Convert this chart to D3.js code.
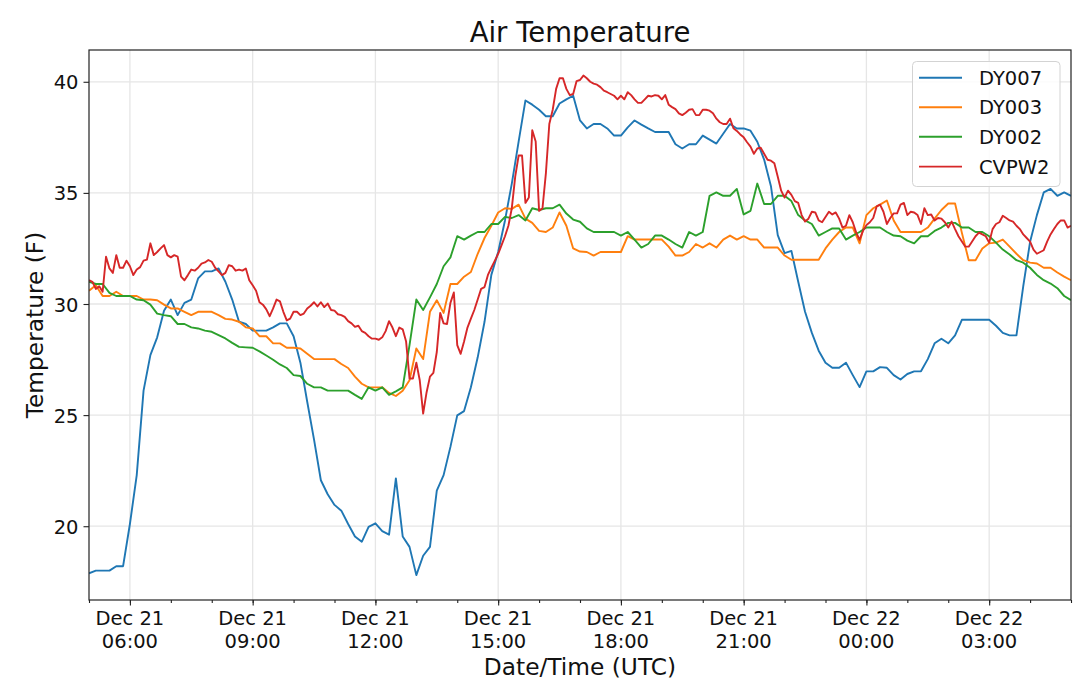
<!DOCTYPE html>
<html>
<head>
<meta charset="utf-8">
<script src="https://cdn.jsdelivr.net/npm/d3@7"></script>
<style>
  html, body { margin: 0; padding: 0; background: #ffffff; }
  svg { display: block; font-family: "DejaVu Sans", sans-serif; }
</style>
</head>
<body>
<svg id="chart" width="1080" height="699"></svg>
<script>
// ---------------- data ----------------
const seriesNames = ["DY007", "DY003", "DY002", "CVPW2"];
const seriesColors = ["#1f77b4", "#ff7f0e", "#2ca02c", "#d62728"];

const startTime = "2018-12-21T05:00:00Z";
const endTime = "2018-12-22T05:00:00Z";
const dyStepMinutes = 10;   // DY stations report every 10 minutes
const cvStepMinutes = 5;    // CVPW2 reports every 5 minutes

const dy007 = [
  17.88, 18.0, 18.0, 18.0, 18.2, 18.2, 20.1, 22.3, 26.1, 27.7,
  28.5, 29.7, 30.2, 29.5, 30.05, 30.2, 31.15, 31.47, 31.47, 31.6,
  31.0, 30.2, 29.2, 29.1, 28.8,
  28.8, 28.8, 28.95, 29.13, 29.13, 28.55, 27.36, 25.6, 23.9, 22.07,
  21.44, 20.96, 20.7, 20.1, 19.54, 19.3, 19.97, 20.13, 19.78, 19.62,
  22.15, 19.54, 19.07, 17.8,
  18.67, 19.07, 21.6, 22.3, 23.57, 24.99, 25.18, 26.25, 27.6, 29.2,
  31.31, 32.34, 33.76, 35.42, 37.31, 39.16, 38.97, 38.74, 38.45, 38.45,
  39.02, 39.21, 39.37, 38.26,
  37.9, 38.1, 38.1, 37.9, 37.58, 37.58, 37.95, 38.26, 38.07, 37.9,
  37.74, 37.74, 37.74, 37.19, 37.0, 37.19, 37.19, 37.58, 37.4, 37.22,
  37.66, 38.1, 37.9, 37.9,
  37.8, 37.3, 36.5, 35.3, 33.1, 32.29, 32.39, 31.0, 29.65, 28.7,
  27.9, 27.36, 27.13, 27.13, 27.36, 26.8, 26.26, 26.97, 26.97, 27.16,
  27.13, 26.8, 26.6, 26.85,
  26.97, 26.97, 27.52, 28.23, 28.44, 28.23, 28.59, 29.29, 29.29, 29.29,
  29.29, 29.29, 29.02, 28.7, 28.59, 28.59, 30.8, 32.8, 34.0, 35.02,
  35.18, 34.87, 35.02, 34.87
];

const dy003 = [
  30.6, 30.84, 30.36, 30.36, 30.55, 30.36, 30.36, 30.36, 30.2, 30.2,
  30.17, 29.97, 29.8, 29.8, 29.65, 29.5, 29.65, 29.65, 29.65, 29.5,
  29.33, 29.3, 29.2, 28.95, 28.9,
  28.55, 28.55, 28.23, 28.23, 28.03, 28.03, 28.0, 27.76, 27.52, 27.52,
  27.52, 27.52, 27.3, 27.12, 26.73, 26.41, 26.25, 26.25, 26.25, 26.0,
  25.86, 26.1, 26.57, 28.0,
  27.52, 29.65, 30.17, 29.6, 30.9, 30.9, 31.23, 31.44, 32.26, 32.97,
  33.52, 34.12, 34.31, 34.28, 34.47, 33.84, 33.65, 33.29, 33.24, 33.44,
  34.12, 33.52, 32.5, 32.36,
  32.34, 32.18, 32.34, 32.34, 32.34, 32.34, 33.05, 32.9, 32.9, 32.9,
  32.9, 32.9, 32.58, 32.18, 32.18, 32.34, 32.7, 32.54, 32.73, 32.54,
  32.9, 33.08, 32.9, 33.05,
  32.9, 32.9, 32.54, 32.54, 32.54, 32.18, 31.99, 31.99, 31.99, 31.99,
  31.99, 32.5, 32.9, 33.24, 33.44, 33.44, 32.73, 34.0, 34.31, 34.47,
  34.66, 33.76, 33.24, 33.24,
  33.24, 33.24, 33.44, 33.84, 34.23, 34.52, 34.52, 33.2, 31.97, 31.97,
  32.5, 32.73, 32.76, 32.9, 32.58, 32.26, 31.97, 31.86, 31.82, 31.63,
  31.63, 31.42, 31.23, 31.07
];

const dy002 = [
  31.0, 30.9, 30.9, 30.5, 30.36, 30.36, 30.36, 30.2, 30.17, 29.97,
  29.57, 29.5, 29.45, 29.1, 29.1, 28.95, 28.9, 28.8, 28.75, 28.6,
  28.45, 28.25, 28.07, 28.05, 28.03,
  27.87, 27.68, 27.49, 27.28, 27.12, 26.8, 26.76, 26.41, 26.25, 26.25,
  26.1, 26.1, 26.1, 26.1, 25.91, 25.73, 26.25, 26.1, 26.25, 25.91,
  26.07, 26.25, 28.15, 30.2,
  29.73, 30.3, 30.9, 31.7, 32.1, 33.05, 32.9, 33.08, 33.24, 33.24,
  33.6, 33.6, 33.92, 33.87, 34.0, 33.76, 34.31, 34.23, 34.31, 34.31,
  34.47, 34.07, 33.8, 33.7,
  33.4, 33.24, 33.24, 33.24, 33.24, 33.08, 33.24, 32.9, 32.54, 32.7,
  33.08, 33.08, 32.9, 32.7, 32.54, 33.24, 33.08, 33.24, 34.87, 35.02,
  34.87, 34.87, 35.18, 34.03,
  34.19, 35.42, 34.5, 34.5, 34.87, 34.87, 34.63, 34.0, 33.76, 33.6,
  33.08, 33.24, 33.4, 33.4, 32.9, 33.08, 33.24, 33.44, 33.44, 33.44,
  33.24, 33.08, 33.05, 32.85,
  32.73, 33.05, 33.05, 33.29, 33.44, 33.65, 33.65, 33.44, 33.44, 33.24,
  33.24, 33.05, 32.76, 32.45, 32.23, 31.97, 31.86, 31.63, 31.31, 31.07,
  30.92, 30.71, 30.36, 30.17
];

const cvpw2 = [
  // 05:00 - 08:55
  31.07, 31.0, 30.68, 30.8, 30.55, 32.13, 31.6, 31.4, 32.2, 31.63, 31.63, 31.95,
  31.7, 31.3, 31.55, 31.66, 31.95, 32.0, 32.73, 32.2, 32.34, 32.5, 32.65, 32.2,
  32.1, 32.2, 32.13, 31.23, 31.07, 31.3, 31.55, 31.5, 31.63, 31.82, 31.87, 31.98,
  31.9, 31.63, 31.47, 31.3, 31.4, 31.75, 31.7, 31.5, 31.55, 31.5, 31.6, 31.07,
  // 09:00 - 12:55
  30.84, 30.6, 30.08, 29.97, 29.76, 29.45, 29.8, 30.2, 30.12, 29.65, 29.26, 29.34,
  29.65, 29.65, 29.5, 29.57, 29.8, 29.92, 30.08, 29.89, 30.08, 29.86, 30.02, 29.73,
  29.7, 29.54, 29.5, 29.42, 29.23, 29.13, 28.97, 29.02, 28.78, 28.7, 28.55, 28.44,
  28.44, 28.39, 28.5, 28.78, 29.23, 28.94, 28.55, 28.94, 28.86, 28.31, 26.65, 26.65,
  // 13:00 - 16:55
  27.36, 26.57, 25.07, 26.02, 26.73, 26.9, 27.84, 29.6, 29.13, 29.1, 30.05, 30.52,
  28.15, 27.76, 28.31, 28.94, 29.34, 29.73, 30.2, 30.68, 30.76, 31.31, 31.63, 31.94,
  32.26, 32.65, 33.05, 33.52, 34.31, 35.73, 36.68, 36.68, 34.55, 34.79, 37.82, 37.31,
  34.19, 34.31, 35.89, 38.1, 38.74, 39.68, 40.16, 40.16, 39.68, 39.4, 39.45, 40.03,
  // 17:00 - 20:55
  40.08, 40.28, 40.16, 40.0, 39.92, 39.87, 39.76, 39.6, 39.53, 39.45, 39.37, 39.21,
  39.37, 39.21, 39.53, 39.4, 39.21, 39.05, 39.05, 39.21, 39.37, 39.34, 39.4, 39.37,
  39.21, 39.4, 38.97, 38.86, 38.77, 38.58, 38.5, 38.61, 38.74, 38.77, 38.5, 38.5,
  38.74, 38.74, 38.7, 38.58, 38.34, 38.18, 38.1, 38.1, 38.34, 37.91, 37.79, 37.63,
  // 21:00 - 00:55
  37.5, 37.28, 37.08, 36.76, 37.0, 37.03, 36.76, 36.49, 36.45, 36.33, 35.73, 35.1,
  34.79, 35.1, 34.91, 34.63, 34.55, 34.0, 33.71, 33.84, 34.15, 34.12, 33.76, 33.68,
  33.92, 34.15, 34.03, 34.12, 33.84, 33.44, 33.52, 34.0, 33.68, 33.21, 32.89, 33.29,
  33.55, 33.68, 33.87, 34.39, 34.47, 34.15, 33.6, 33.87, 34.08, 34.08, 34.47, 34.55,
  // 01:00 - 05:00
  34.0, 34.15, 34.12, 34.0, 33.6, 34.31, 34.0, 34.03, 33.76, 33.87, 33.84, 33.68,
  33.44, 33.71, 33.37, 33.05, 32.81, 32.58, 32.58, 32.81, 33.05, 33.21, 33.13, 33.05,
  32.76, 33.37, 33.6, 33.68, 33.97, 33.87, 33.76, 33.71, 33.52, 33.37, 33.13, 32.97,
  32.81, 32.45, 32.26, 32.34, 32.42, 32.81, 33.13, 33.37, 33.6, 33.76, 33.76, 33.44,
  33.52
];

const yTickValues = [20, 25, 30, 35, 40];
const yDomain = [16.68, 41.43];
const titleText = "Air Temperature";
const xLabelText = "Date/Time (UTC)";
const yLabelText = "Temperature (F)";

// ---------------- layout ----------------
const W = 1080, H = 699;
const plot = { left: 89, right: 1071, top: 50, bottom: 600 };

const svg = d3.select("#chart");
const t0 = new Date(startTime), t1 = new Date(endTime);

const x = d3.scaleUtc().domain([t0, t1]).range([plot.left, plot.right]);
const y = d3.scaleLinear().domain(yDomain).range([plot.bottom, plot.top]);

function toPoints(values, stepMin) {
  return values.map((v, i) => ({ t: d3.utcMinute.offset(t0, i * stepMin), v }));
}
const allSeries = [
  toPoints(dy007, dyStepMinutes),
  toPoints(dy003, dyStepMinutes),
  toPoints(dy002, dyStepMinutes),
  toPoints(cvpw2, cvStepMinutes)
];

// grid
const majorX = d3.utcHour.every(3).range(t0, d3.utcMinute.offset(t1, 1)).filter(d => d > t0);
const minorX = d3.utcHour.every(1).range(t0, d3.utcMinute.offset(t1, 1));

const grid = svg.append("g");
grid.selectAll("line.gx").data(majorX).join("line")
  .attr("x1", d => x(d)).attr("x2", d => x(d))
  .attr("y1", plot.top).attr("y2", plot.bottom)
  .attr("stroke", "#e6e6e6").attr("stroke-width", 1.3);
grid.selectAll("line.gy").data(yTickValues).join("line")
  .attr("x1", plot.left).attr("x2", plot.right)
  .attr("y1", d => y(d)).attr("y2", d => y(d))
  .attr("stroke", "#e6e6e6").attr("stroke-width", 1.3);

// lines
svg.append("clipPath").attr("id", "clip").append("rect")
  .attr("x", plot.left).attr("y", plot.top)
  .attr("width", plot.right - plot.left).attr("height", plot.bottom - plot.top);

const line = d3.line().x(d => x(d.t)).y(d => y(d.v));
const lines = svg.append("g").attr("clip-path", "url(#clip)");
allSeries.forEach((s, i) => {
  lines.append("path").datum(s)
    .attr("d", line)
    .attr("fill", "none")
    .attr("stroke", seriesColors[i])
    .attr("stroke-width", 1.9)
    .attr("stroke-linejoin", "round");
});

// frame
svg.append("rect")
  .attr("x", plot.left).attr("y", plot.top)
  .attr("width", plot.right - plot.left).attr("height", plot.bottom - plot.top)
  .attr("fill", "none").attr("stroke", "#222").attr("stroke-width", 1.2);

// x axis ticks
const xMinorAxis = d3.axisBottom(x).tickValues(minorX).tickSize(3).tickFormat("");
const xMajorAxis = d3.axisBottom(x).tickValues(majorX).tickSize(5.5).tickFormat("");
const gxm = svg.append("g").attr("transform", `translate(0,${plot.bottom})`).call(xMinorAxis);
const gxM = svg.append("g").attr("transform", `translate(0,${plot.bottom})`).call(xMajorAxis);
[gxm, gxM].forEach(g => {
  g.select(".domain").remove();
  g.selectAll(".tick line").attr("stroke", "#222").attr("stroke-width", 1.1);
});

const fmtDay = d3.utcFormat("%b %d");
const fmtHour = d3.utcFormat("%H:%M");
const xLabels = svg.append("g")
  .attr("font-size", "19.5px").attr("fill", "#111").attr("text-anchor", "middle");
majorX.forEach(d => {
  const tx = xLabels.append("text").attr("x", x(d)).attr("y", 624.5);
  tx.append("tspan").attr("x", x(d)).text(fmtDay(d));
  tx.append("tspan").attr("x", x(d)).attr("dy", 23.4).text(fmtHour(d));
});

// y axis
const yAxis = d3.axisLeft(y).tickValues(yTickValues).tickSize(5.5).tickPadding(5).tickFormat(d3.format("d"));
const gy = svg.append("g").attr("transform", `translate(${plot.left},0)`).call(yAxis);
gy.select(".domain").remove();
gy.selectAll(".tick line").attr("stroke", "#222").attr("stroke-width", 1.1);
gy.selectAll(".tick text")
  .attr("font-size", "19.5px").attr("fill", "#111")
  .attr("font-family", "DejaVu Sans, sans-serif")
  .attr("dy", "0.36em");

// titles
svg.append("text")
  .attr("x", (plot.left + plot.right) / 2).attr("y", 42)
  .attr("text-anchor", "middle").attr("font-size", "27.5px").attr("fill", "#111")
  .text(titleText);
svg.append("text")
  .attr("x", (plot.left + plot.right) / 2).attr("y", 675)
  .attr("text-anchor", "middle").attr("font-size", "23.3px").attr("fill", "#111")
  .text(xLabelText);
svg.append("text")
  .attr("transform", `translate(43,${(plot.top + plot.bottom) / 2}) rotate(-90)`)
  .attr("text-anchor", "middle").attr("font-size", "23.3px").attr("fill", "#111")
  .text(yLabelText);

// legend
const legend = svg.append("g");
legend.append("rect")
  .attr("x", 912.5).attr("y", 61.5).attr("width", 147.5).attr("height", 125)
  .attr("rx", 4).attr("fill", "#ffffff").attr("fill-opacity", 0.85)
  .attr("stroke", "#d3d3d3").attr("stroke-width", 1);
const rowY = [77.7, 107.3, 136.8, 166.6];
seriesNames.forEach((name, i) => {
  legend.append("line")
    .attr("x1", 919).attr("x2", 962)
    .attr("y1", rowY[i]).attr("y2", rowY[i])
    .attr("stroke", seriesColors[i]).attr("stroke-width", 1.9);
  legend.append("text")
    .attr("x", 979).attr("y", rowY[i]).attr("dy", "0.36em")
    .attr("font-size", "19.5px").attr("fill", "#111")
    .text(name);
});
</script>
</body>
</html>
